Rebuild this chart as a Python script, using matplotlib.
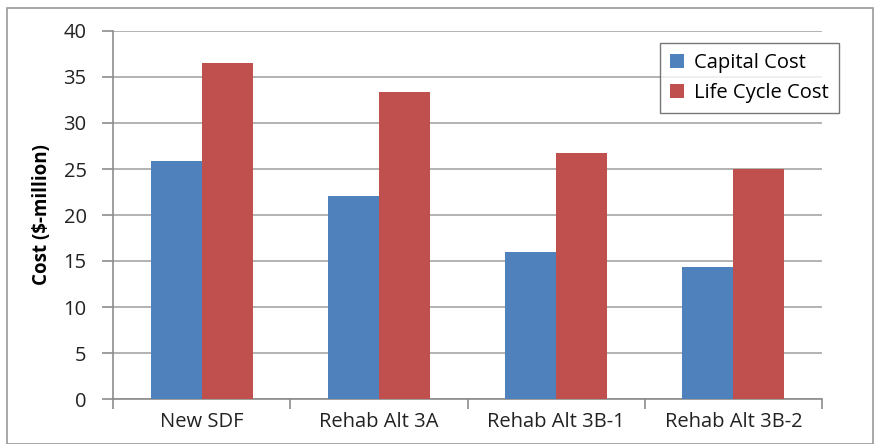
import matplotlib
matplotlib.use("Agg")
import matplotlib.pyplot as plt
from matplotlib.patches import Rectangle
import numpy as np

categories = ["New SDF", "Rehab Alt 3A", "Rehab Alt 3B-1", "Rehab Alt 3B-2"]
capital_cost = [25.9, 22.1, 16.0, 14.4]
life_cycle_cost = [36.5, 33.4, 26.7, 25.0]
yticks = [0, 5, 10, 15, 20, 25, 30, 35, 40]

plt.rcParams['font.family'] = ['Open Sans', 'DejaVu Sans']

fig = plt.figure(figsize=(8.75, 4.44), dpi=100)
ax = fig.add_axes([113/875, 1 - 399/444, 709/875, 368/444])

x = np.arange(len(categories))
w = 0.288
ax.bar(x - w/2, capital_cost, w, color="#4F81BD", label="Capital Cost", zorder=3)
ax.bar(x + w/2, life_cycle_cost, w, color="#C0504D", label="Life Cycle Cost", zorder=3)

ax.set_xlim(-0.5, len(categories) - 0.5)
ax.set_ylim(0, 40)
ax.set_yticks(yticks)
ax.set_yticklabels([str(t) for t in yticks], fontsize=14.5, color="#222222")
ax.yaxis.grid(True, color="#A6A6A6", linewidth=1.2, zorder=0)
ax.set_axisbelow(True)

ax.set_xticks(x)
ax.set_xticklabels(categories, fontsize=14.5, color="#222222")
ax.tick_params(axis='x', length=0, pad=9)
ax.set_xticks(np.arange(-0.5, len(categories)), minor=True)
ax.tick_params(axis='x', which='minor', length=7, color="#8C8C8C", width=1.2)
ax.tick_params(axis='y', length=8, color="#8C8C8C", width=1.2, pad=11)

for s in ["top", "right"]:
    ax.spines[s].set_visible(False)
for s in ["left", "bottom"]:
    ax.spines[s].set_color("#8C8C8C")
    ax.spines[s].set_linewidth(1.2)

ax.set_ylabel("Cost ($-million)", fontsize=13.5, fontweight="bold", labelpad=8)

leg = ax.legend(loc="upper right", bbox_to_anchor=(839/875, 1 - 43/444),
                bbox_transform=fig.transFigure, fontsize=14.5, frameon=True,
                fancybox=False, edgecolor="#555555", handlelength=0.7,
                handleheight=0.7, handletextpad=0.5, borderpad=0.5,
                labelspacing=0.5, borderaxespad=0)
leg.get_frame().set_linewidth(1.0)

fig.patches.append(Rectangle((7/875, 0.0), 866/875, 1 - 8/444, transform=fig.transFigure,
                             fill=False, edgecolor="#9A9A9A", linewidth=1.2))

fig.savefig("out.png", dpi=100)
